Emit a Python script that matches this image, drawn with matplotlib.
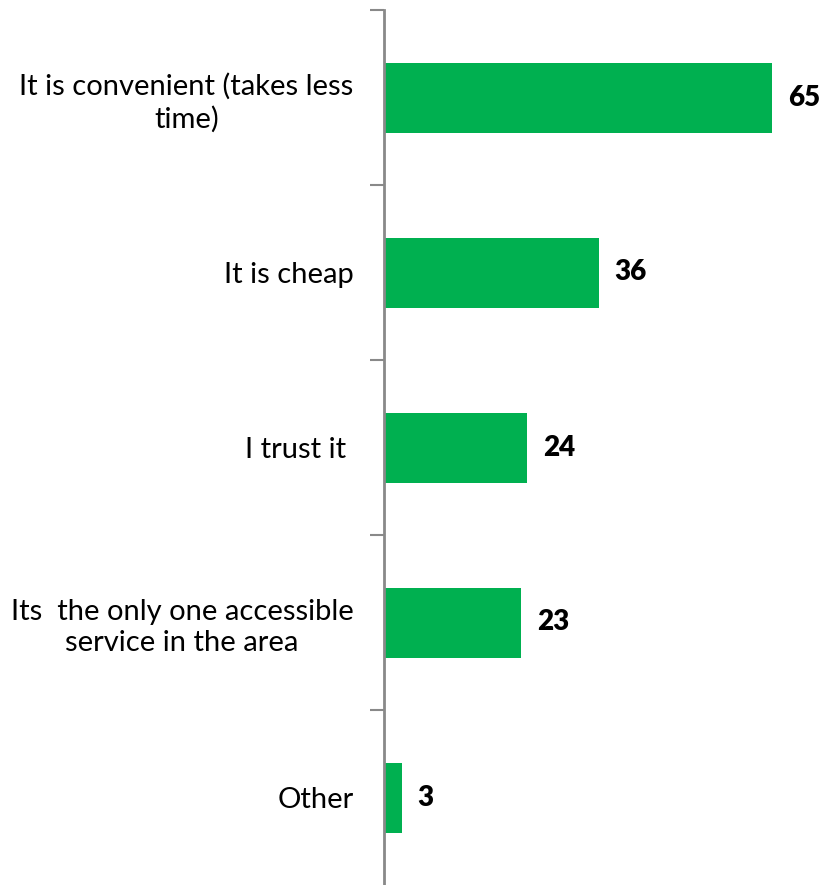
import matplotlib
matplotlib.use("Agg")
import matplotlib.pyplot as plt

categories = [
    "It is convenient (takes less\ntime)",
    "It is cheap",
    "I trust it ",
    "Its  the only one accessible\nservice in the area",
    "Other",
]
values = [65, 36, 24, 23, 3]

bar_color = "#00B050"
axis_color = "#898989"

fig = plt.figure(figsize=(8.23, 8.85), dpi=100)
ax = fig.add_axes([384 / 823, 0.0, (802 - 384) / 823, (885 - 10) / 885])

positions = list(range(len(categories)))
ax.barh(positions, values, height=0.4, color=bar_color)

for y, v in zip(positions, values):
    ax.text(v + 2.6, y, f"{v}", va="center", ha="left",
            fontsize=20, fontweight="heavy", family="Lato", color="black")

ax.set_xlim(0, 70)
ax.set_ylim(len(categories) - 0.5, -0.5)

# category separators as major ticks, labels on minor ticks
ax.set_yticks([p - 0.5 for p in positions])
ax.set_yticklabels([])
ax.set_yticks(positions, minor=True)
ax.set_yticklabels(categories, minor=True, fontsize=21, family="Lato",
                   multialignment="center", linespacing=1.25)
ax.tick_params(axis="y", which="major", length=10, width=1.5, color=axis_color)
ax.tick_params(axis="y", which="minor", length=0, pad=22)
ax.set_xticks([])

for side in ["top", "right", "bottom"]:
    ax.spines[side].set_visible(False)
ax.spines["left"].set_color(axis_color)
ax.spines["left"].set_linewidth(2)

fig.savefig("out.png", dpi=100)
